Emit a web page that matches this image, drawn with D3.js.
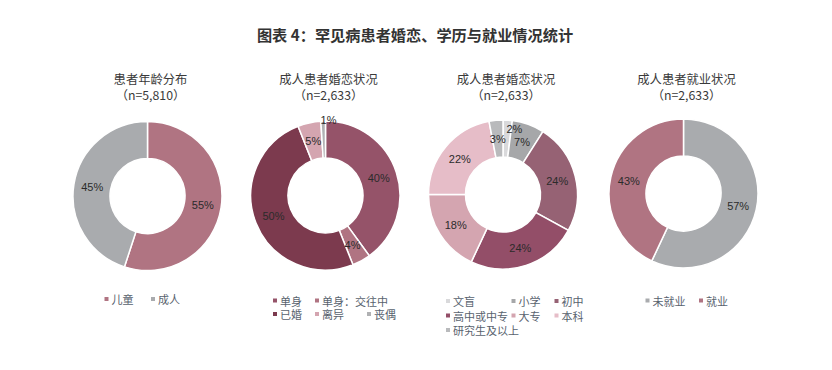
<!DOCTYPE html>
<html><head><meta charset="utf-8">
<script src="https://cdn.jsdelivr.net/npm/d3@7/dist/d3.min.js"></script>
<style>
body{margin:0;background:#fff;}
svg{display:block;}
</style></head>
<body><svg id="c" width="832" height="370"></svg>
<script>
// ---- data ----
const chartTitle = "图表 4：罕见病患者婚恋、学历与就业情况统计";
const subTitles = [["患者年龄分布","（n=5,810）"],["成人患者婚恋状况","（n=2,633）"],["成人患者婚恋状况","（n=2,633）"],["成人患者就业状况","（n=2,633）"]];

const ageCats = ["儿童","成人"];
const ageVals = [55,45];
const ageColors = ["#b07482","#a9abae"];

const marCats = ["单身","单身：交往中","已婚","离异","丧偶"];
const marVals = [40,4,50,5,1];
const marColors = ["#955369","#b07482","#7c3a4e","#d4a5b0","#b0b1b3"];

const eduCats = ["文盲","小学","初中","高中或中专","大专","本科","研究生及以上"];
const eduVals = [2,7,24,24,18,22,3];
const eduColors = ["#d9d9db","#a6a7a9","#966274","#934e68","#d4a5b0","#e6bdc8","#b9babc"];

const empCats = ["未就业","就业"];
const empVals = [57,43];
const empColors = ["#a9abae","#b07482"];

// ---- layout ----
const charts = [
  {cats:ageCats, vals:ageVals, colors:ageColors, cx:147.5, cy:196, cols:[-41,5.5], rows:[[0,1]], rowY:[299]},
  {cats:marCats, vals:marVals, colors:marColors, cx:325.5, cy:195.5, cols:[-50.5,-8.5,43.5], rows:[[0,1],[2,3,4]], rowY:[300.5,314]},
  {cats:eduCats, vals:eduVals, colors:eduColors, cx:503, cy:194.5, cols:[-55,10.5,53.5], rows:[[0,1,2],[3,4,5],[6]], rowY:[301,315.5,330]},
  {cats:empCats, vals:empVals, colors:empColors, cx:683.5, cy:193.5, cols:[-36,17.5], rows:[[0,1]], rowY:[300.5]}
];
const rOuter = 74.5, rInner = 37.5;
const cjk = "'Noto Sans CJK SC','Noto Sans',sans-serif";
const num = "'Liberation Sans',Arial,sans-serif";

const svg = d3.select("#c");
svg.append("text").attr("x",415).attr("y",34).attr("text-anchor","middle")
  .attr("dominant-baseline","central").attr("font-family",cjk).attr("font-weight","bold")
  .attr("font-size",15.2).attr("fill","#333").text(chartTitle);

const pie = d3.pie().sort(null).value(d=>d);
const arc = d3.arc().innerRadius(rInner).outerRadius(rOuter);

charts.forEach((c,ci)=>{
  const g = svg.append("g").attr("transform",`translate(${c.cx},${c.cy})`);
  const arcs = pie(c.vals);
  const color = d3.scaleOrdinal().domain(c.cats).range(c.colors);
  g.selectAll("path").data(arcs).join("path")
    .attr("d",arc).attr("fill",(d,i)=>color(c.cats[i]))
    .attr("stroke","#fff").attr("stroke-width",1.5);
  g.selectAll("text.lab").data(arcs).join("text").attr("class","lab")
    .each(function(d){
      let p;
      if(d.value<=2){
        const r = d.value<=1 ? rOuter+1 : rOuter-8;
        const a = d.endAngle;
        p=[Math.sin(a)*r+3, -Math.cos(a)*r];
      } else p = arc.centroid(d);
      d3.select(this).attr("x",p[0]).attr("y",p[1]);
    })
    .attr("text-anchor","middle").attr("dominant-baseline","central")
    .attr("font-family",num).attr("font-size",11).attr("fill","#2b2b2b")
    .text(d=>d.value+"%");
  // subtitles
  subTitles[ci].forEach((t,li)=>{
    svg.append("text").attr("x",c.cx+3).attr("y",79+li*15.5).attr("text-anchor","middle")
      .attr("dominant-baseline","central").attr("font-family",cjk).attr("font-size",12.3)
      .attr("fill","#3a3a3a").text(t);
  });
  // legend
  c.rows.forEach((row,ri)=>{
    row.forEach((idx,k)=>{
      const x = c.cx + c.cols[k], y = c.rowY[ri];
      svg.append("rect").attr("x",x-2).attr("y",y-2).attr("width",4).attr("height",4)
        .attr("fill",color(c.cats[idx]));
      svg.append("text").attr("x",x+5).attr("y",y).attr("dominant-baseline","central")
        .attr("font-family",cjk).attr("font-size",11).attr("fill","#58626e").text(c.cats[idx]);
    });
  });
});
</script></body></html>
